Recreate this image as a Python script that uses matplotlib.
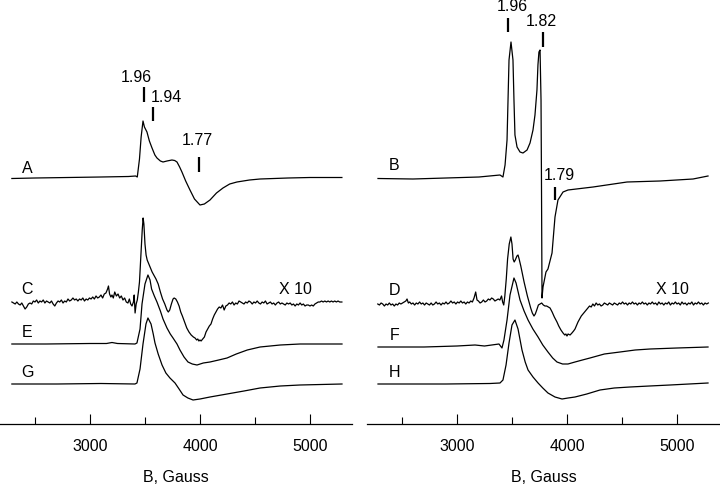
import numpy as np
import matplotlib
matplotlib.use("Agg")
import matplotlib.pyplot as plt

plt.rcParams['font.family'] = ['Liberation Sans', 'DejaVu Sans']

# EPR spectra, field in Gauss, signal in arbitrary units (relative to baseline)
A = [(2290, -1.5), (2500, -1), (2800, -0.5), (3100, 0), (3350, 0.5), (3415, 1),
     (3430, 0), (3450, 18), (3465, 40), (3482, 56), (3495, 50), (3518, 45),
     (3540, 36), (3564, 29), (3590, 22), (3609, 19), (3640, 16), (3664, 15),
     (3700, 16), (3745, 17), (3770, 16.5), (3791, 15), (3815, 10), (3836, 5),
     (3870, -4), (3909, -13), (3950, -22), (4000, -28), (4040, -27), (4091, -23),
     (4150, -16), (4209, -11), (4270, -7), (4336, -5), (4450, -3), (4546, -2),
     (4800, -1), (5000, -0.5), (5290, -0.5)]

B = [(2282, 0.5), (2600, 0), (2900, 1), (3200, 2), (3391, 4), (3418, 2), (3437, 14),
     (3455, 39), (3473, 119), (3491, 137), (3509, 119), (3518, 79), (3527, 44),
     (3546, 32), (3573, 27), (3600, 26), (3637, 29), (3664, 36), (3691, 49),
     (3709, 64), (3727, 89), (3736, 114), (3745, 127), (3755, 129), (3764, 79),
     (3768, -1), (3773, -119), (3782, -108), (3809, -93), (3827, -90), (3864, -74),
     (3891, -38), (3918, -21), (3964, -13), (4009, -11), (4237, -8), (4546, -3),
     (4846, -2), (5146, 0), (5282, 3)]

C = [(2290, 0), (2305, -1), (2320, -2), (2335, 0), (2350, -2), (2365, -3), (2380, -1),
     (2395, -4), (2410, -7), (2425, -5), (2440, -2), (2455, -1), (2470, -2), (2485, 1),
     (2500, 0), (2515, 2), (2530, -1), (2545, 1), (2560, 0), (2575, 2), (2590, -1),
     (2605, 1), (2620, 0), (2635, -1), (2650, 1), (2665, -2), (2680, -4), (2695, -1),
     (2710, 1), (2725, 0), (2740, 2), (2755, -1), (2770, 1), (2785, 0), (2800, 3),
     (2815, 1), (2830, 2), (2845, 4), (2860, 2), (2875, 3), (2890, 1), (2905, 3),
     (2920, 2), (2935, 4), (2950, 1), (2965, 3), (2980, 2), (2995, 4), (3010, 3),
     (3025, 5), (3040, 3), (3055, 6), (3070, 4), (3085, 5), (3100, 7), (3115, 4),
     (3130, 8), (3145, 9), (3160, 13), (3168, 16), (3178, 8), (3190, 5), (3200, 7),
     (3212, 4), (3225, 10), (3240, 6), (3255, 8), (3270, 4), (3285, 6), (3300, 2),
     (3315, 4), (3330, 0), (3345, -1), (3358, 3), (3370, -2), (3382, -4), (3395, 0),
     (3402, 7), (3410, -11), (3420, -2), (3430, 2), (3440, 10), (3450, 20), (3465, 52),
     (3475, 72), (3483, 84), (3490, 78), (3500, 58), (3510, 47), (3520, 42), (3535, 38),
     (3550, 34), (3565, 30), (3580, 27), (3600, 23), (3620, 18), (3640, 10), (3660, 3),
     (3680, -2), (3700, -8), (3712, -10), (3725, -8), (3740, -2), (3755, 3), (3765, 4),
     (3780, 3), (3795, 0), (3810, -4), (3825, -10), (3840, -14), (3860, -20),
     (3880, -26), (3900, -30), (3920, -33), (3940, -35), (3955, -36), (3970, -38),
     (3980, -37), (3990, -39), (4000, -38), (4010, -39), (4025, -37), (4040, -35),
     (4055, -30), (4070, -27), (4085, -24), (4100, -22), (4115, -17), (4130, -13),
     (4145, -10), (4160, -7), (4175, -5), (4190, -6), (4205, -3), (4220, -8), (4235, -4),
     (4250, -3), (4265, -1), (4280, -2), (4295, 0), (4310, -3), (4325, -1), (4340, -2),
     (4355, 1), (4370, 0), (4385, -1), (4400, -2), (4415, 0), (4430, -1), (4445, 1),
     (4460, 0), (4475, -2), (4490, 0), (4505, -1), (4520, 1), (4535, -1), (4550, -2),
     (4565, 0), (4580, -1), (4595, 1), (4610, -2), (4625, -1), (4640, 0), (4655, -2),
     (4670, -1), (4685, -3), (4700, -1), (4715, 0), (4730, -2), (4745, -1), (4760, -2),
     (4775, -3), (4790, -1), (4805, -2), (4820, -1), (4835, -3), (4850, -2), (4865, -4),
     (4880, -2), (4895, -3), (4910, -1), (4925, -3), (4940, -2), (4955, -4), (4970, -3),
     (4985, -3), (5000, -4), (5015, -3), (5030, -4), (5045, -2), (5060, -1), (5075, 0),
     (5090, 0), (5105, 1), (5120, 0), (5135, 1), (5150, 0), (5165, 1), (5180, 0),
     (5195, 1), (5210, 0), (5225, 1), (5240, 0), (5255, 1), (5270, 0), (5290, 0)]

D = [(2280, 0), (2295, -1), (2310, 1), (2325, 0), (2340, -2), (2355, 0), (2370, -1),
     (2385, 1), (2400, -1), (2415, 0), (2430, -2), (2445, 0), (2460, -1), (2475, 1),
     (2490, 0), (2505, 1), (2520, 2), (2535, 3), (2546, 5), (2558, 1), (2570, 2),
     (2585, 0), (2600, 1), (2615, -1), (2630, 1), (2645, 0), (2660, 2), (2675, 0),
     (2690, 1), (2705, -1), (2720, 1), (2735, 0), (2750, -1), (2765, 1), (2780, -1),
     (2795, 0), (2810, 2), (2825, 0), (2840, 1), (2855, -1), (2870, 1), (2885, 0),
     (2900, 2), (2915, 0), (2930, 1), (2945, 3), (2960, 1), (2975, 2), (2990, 0),
     (3005, 2), (3020, 1), (3035, 3), (3050, 1), (3065, 2), (3080, 0), (3095, 2),
     (3110, 1), (3125, 3), (3140, 2), (3155, 6), (3170, 12), (3182, 4), (3195, 3),
     (3210, 1), (3225, 2), (3240, 4), (3255, 2), (3270, 3), (3285, 5), (3300, 4),
     (3315, 6), (3330, 5), (3345, 3), (3360, 4), (3375, 5), (3390, 4), (3405, 8),
     (3415, 2), (3425, -1), (3435, 8), (3448, 25), (3460, 45), (3475, 60), (3490, 67),
     (3500, 60), (3510, 45), (3520, 42), (3530, 44), (3545, 48), (3555, 49), (3565, 45),
     (3580, 38), (3595, 30), (3610, 22), (3625, 15), (3640, 8), (3655, 2), (3670, -4),
     (3685, -9), (3700, -12), (3712, -10), (3725, -6), (3740, -1), (3755, 0), (3770, 1),
     (3785, -1), (3800, -2), (3815, -2), (3830, -3), (3846, -4), (3865, -8), (3885, -13),
     (3909, -18), (3925, -22), (3945, -26), (3964, -29), (3980, -31), (3990, -30),
     (4000, -32), (4010, -30), (4028, -31), (4045, -29), (4060, -27), (4073, -25),
     (4085, -22), (4100, -18), (4115, -15), (4130, -12), (4145, -10), (4160, -8),
     (4175, -6), (4190, -4), (4205, -2), (4220, -3), (4235, 0), (4250, -2),
     (4265, 1), (4280, -1), (4295, 0), (4310, -2), (4325, -1), (4340, 1), (4355, 0),
     (4370, -1), (4385, 1), (4400, 0), (4415, -1), (4430, 1), (4445, 0), (4460, -1),
     (4475, 1), (4490, 0), (4505, 2), (4520, 0), (4535, 1), (4550, -1), (4565, 1),
     (4580, 0), (4595, 2), (4610, 0), (4625, 1), (4640, -1), (4655, 1), (4670, 0),
     (4685, 2), (4700, 0), (4715, 1), (4730, -1), (4745, 1), (4760, 0), (4775, 2),
     (4790, 0), (4805, 1), (4820, -1), (4835, 2), (4850, 0), (4865, 1), (4880, -1),
     (4895, 1), (4910, 0), (4925, 2), (4940, -1), (4955, 1), (4970, 0), (4985, 2),
     (5000, 0), (5015, 1), (5030, -1), (5045, 2), (5060, 0), (5075, 1), (5090, -1),
     (5105, 1), (5120, 0), (5135, 2), (5150, -1), (5165, 1), (5180, 0), (5195, 2),
     (5210, 0), (5225, 1), (5240, -1), (5255, 1), (5270, 0), (5285, 1)]

E = [(2290, 0), (2600, 0), (3000, 0.5), (3150, 0.5), (3200, 1.5), (3250, 0.5),
     (3409, 0), (3427, 1), (3455, 15), (3473, 40), (3500, 60), (3527, 69), (3546, 64),
     (3560, 55), (3585, 48), (3609, 42), (3640, 33), (3664, 25), (3700, 16), (3730, 10),
     (3755, 6), (3791, 0), (3818, -6), (3855, -13), (3891, -18), (3930, -20),
     (3973, -21), (4030, -19), (4091, -18), (4170, -16), (4246, -14), (4330, -10),
     (4430, -6), (4546, -3), (4730, -1), (4909, 0), (5291, 0)]

G = [(2290, 0), (2700, 0), (3100, 0.5), (3409, 0), (3427, 1), (3455, 15), (3482, 40),
     (3509, 60), (3527, 66), (3555, 60), (3575, 50), (3591, 41), (3620, 30),
     (3655, 19), (3690, 11), (3727, 6), (3773, 1), (3810, -5), (3846, -11),
     (3890, -14), (3937, -16), (4000, -15), (4091, -13), (4246, -10), (4400, -7),
     (4546, -4), (4730, -2), (4909, -1), (5291, 0)]

F = [(2282, 0), (2700, 0), (3000, 1), (3164, 2), (3250, 1), (3382, 3), (3409, -1),
     (3427, 7), (3455, 27), (3482, 52), (3518, 69), (3537, 64), (3573, 47),
     (3610, 36), (3646, 27), (3690, 18), (3737, 10), (3780, 2), (3827, -5),
     (3870, -11), (3909, -15), (3960, -17), (4009, -17), (4073, -15), (4140, -13),
     (4209, -11), (4340, -7), (4482, -5), (4620, -3), (4755, -2), (5000, -1),
     (5282, 0)]

H = [(2282, 0), (2900, 0), (3300, 0.5), (3391, 1), (3418, 4), (3446, 19), (3473, 41),
     (3500, 59), (3527, 64), (3555, 55), (3591, 34), (3620, 22), (3646, 14),
     (3691, 7), (3737, 1), (3780, -4), (3827, -9), (3891, -13), (3955, -15),
     (4010, -14), (4073, -13), (4180, -10), (4300, -6), (4430, -4), (4573, -3),
     (4750, -2), (4937, -1), (5282, 1)]

left_traces = [("A", A, 247), ("C", C, 122), ("E", E, 80), ("G", G, 40)]
right_traces = [("B", B, 245), ("D", D, 120), ("F", F, 77), ("H", H, 40)]
label_y = {"A": 256, "C": 135, "E": 92, "G": 52, "B": 259, "D": 134, "F": 89, "H": 52}

# g-value markers: (text, field of mark, mark bottom, mark top, text x, text y)
left_g = [("1.96", 3491, 322, 337, 3418, 347), ("1.94", 3573, 303, 317, 3691, 327),
          ("1.77", 3991, 252, 267, 3973, 284)]
right_g = [("1.96", 3464, 392, 406, 3500, 418), ("1.82", 3782, 377, 392, 3764, 403),
           ("1.79", 3891, 224, 237, 3927, 249)]

fig = plt.figure(figsize=(7.2, 4.86), dpi=100)
ax_l = fig.add_axes([0.0, 1 - 424 / 486, 352 / 720, 424 / 486])
ax_r = fig.add_axes([367 / 720, 1 - 424 / 486, 353 / 720, 424 / 486])

for ax, traces, marks, xmax, xtext in [(ax_l, left_traces, left_g, 5382, 4864),
                                        (ax_r, right_traces, right_g, 5391, 4955)]:
    for name, data, off in traces:
        arr = np.array(data, dtype=float)
        ax.plot(arr[:, 0], arr[:, 1] + off, color="black", lw=0.9)
        ax.text(2430, label_y[name], name, fontsize=11.5, ha="center", va="center")
    ax.text(xtext, 135, "X 10", fontsize=11.5, ha="center", va="center")
    for txt, fx, y0, y1, tx, ty in marks:
        ax.vlines(fx, y0, y1, color="black", lw=1.6)
        ax.text(tx, ty, txt, fontsize=11.5, ha="center", va="center")

    ax.set_xlim(2182, xmax)
    ax.set_ylim(0, 424)
    ax.set_xticks([3000, 4000, 5000])
    ax.set_xticks([2500, 3500, 4500], minor=True)
    ax.tick_params(axis="x", which="major", direction="in", length=7.5, width=0.8,
                   pad=11, labelsize=11.5)
    ax.tick_params(axis="x", which="minor", direction="in", length=5, width=0.8)
    ax.set_yticks([])
    for s in ["top", "left", "right"]:
        ax.spines[s].set_visible(False)
    ax.spines["bottom"].set_linewidth(0.9)
    ax.set_xlabel("B, Gauss", fontsize=11.5, labelpad=11)
    ax.patch.set_alpha(0)

fig.savefig("out.png", dpi=100)
